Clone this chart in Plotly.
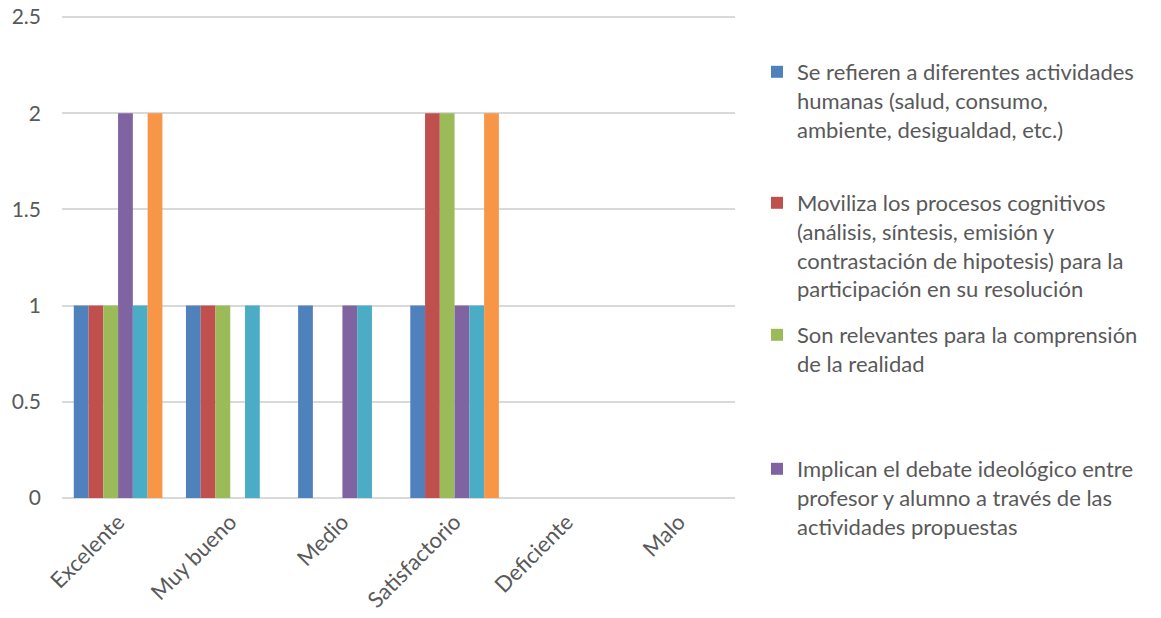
import plotly.graph_objects as go

# Categories and series
categorias = ["Excelente", "Muy bueno", "Medio", "Satisfactorio", "Deficiente", "Malo"]

nombres = [
    "Se refieren a diferentes actividades<br>humanas (salud, consumo,<br>ambiente, desigualdad, etc.)",
    "Moviliza los procesos cognitivos<br>(análisis, síntesis, emisión y<br>contrastación de hipotesis) para la<br>participación en su resolución",
    "Son relevantes para la comprensión<br>de la realidad",
    "Implican el debate ideológico entre<br>profesor y alumno a través de las<br>actividades propuestas",
    "Serie 5",
    "Serie 6",
]

serie1 = [1, 1, 1, 1, 0, 0]
serie2 = [1, 1, 0, 2, 0, 0]
serie3 = [1, 1, 0, 2, 0, 0]
serie4 = [2, 0, 1, 1, 0, 0]
serie5 = [1, 1, 1, 1, 0, 0]
serie6 = [2, 0, 0, 2, 0, 0]

valores = [serie1, serie2, serie3, serie4, serie5, serie6]
colores = ["#4F81BD", "#C0504D", "#9BBB59", "#8064A2", "#4BACC6", "#F79646"]

W, H = 1161, 618
ML, MR, MT, MB = 62, 426, 13, 120
PW, PH = W - ML - MR, H - MT - MB
Y_TOP = 2.5 * PH / 481  # leaves a few pixels above the 2.5 gridline


def px_x(x):
    return (x - ML) / PW


def px_y(y):
    return (H - MB - y) / PH


FONT = "Lato"
GRIS = "#595959"

fig = go.Figure()
legend_ids = ["legend", "legend2", "legend3", "legend4"]
for i, (nom, vals, col) in enumerate(zip(nombres, valores, colores)):
    fig.add_trace(go.Bar(
        x=categorias,
        y=vals,
        name=nom,
        marker=dict(color=col, line=dict(width=0)),
        showlegend=i < 4,
        legend=legend_ids[i] if i < 4 else "legend",
    ))

# Four legend boxes spaced evenly down the right side
legend_tops = [51, 182, 314, 448]
legend_layout = {}
for lid, top in zip(legend_ids, legend_tops):
    legend_layout[lid] = dict(
        x=px_x(757), y=px_y(top), xanchor="left", yanchor="top",
        font=dict(family=FONT, size=22, color=GRIS),
        bgcolor="rgba(0,0,0,0)", valign="top",
        itemclick=False, itemdoubleclick=False,
    )

fig.update_layout(
    width=W, height=H,
    margin=dict(l=ML, r=MR, t=MT, b=MB, autoexpand=False),
    paper_bgcolor="white", plot_bgcolor="white",
    barmode="group", bargap=0.21, bargroupgap=0,
    font=dict(family=FONT, size=21, color=GRIS),
    xaxis=dict(
        tickangle=-45, showgrid=False, showline=False, zeroline=False,
        ticks="", automargin=False, ticklabelstandoff=6,
        tickfont=dict(family=FONT, size=22, color=GRIS),
    ),
    yaxis=dict(
        range=[0, Y_TOP], tickvals=[0, 0.5, 1, 1.5, 2, 2.5],
        showgrid=True, gridcolor="#D9D9D9", gridwidth=1.5,
        zeroline=True, zerolinecolor="#D9D9D9", zerolinewidth=1.5,
        showline=False, ticks="", ticklabelstandoff=20, automargin=False,
        tickfont=dict(family=FONT, size=21, color=GRIS),
    ),
    **legend_layout,
)

fig.write_html("out.html")
